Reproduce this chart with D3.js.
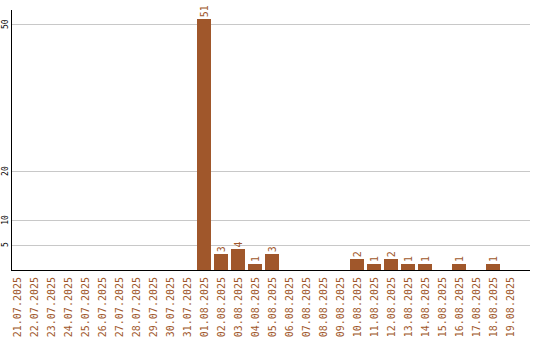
<!DOCTYPE html>
<html><head><meta charset="utf-8">
<script src="https://cdn.jsdelivr.net/npm/d3@7"></script>
<style>body{margin:0;background:#fff}svg{display:block}</style>
</head><body>
<svg id="c" width="540" height="340"></svg>
<script>
const categories = ["21.07.2025","22.07.2025","23.07.2025","24.07.2025","25.07.2025","26.07.2025","27.07.2025","28.07.2025","29.07.2025","30.07.2025","31.07.2025","01.08.2025","02.08.2025","03.08.2025","04.08.2025","05.08.2025","06.08.2025","07.08.2025","08.08.2025","09.08.2025","10.08.2025","11.08.2025","12.08.2025","13.08.2025","14.08.2025","15.08.2025","16.08.2025","17.08.2025","18.08.2025","19.08.2025"];
const values = [0,0,0,0,0,0,0,0,0,0,0,51,3,4,1,3,0,0,0,0,2,1,2,1,1,0,1,0,1,0];
const yTicks = [5,10,20,50];

const svg = d3.select("#c");
const brown = "#a0572b";
const mLeft = 11, mRight = 530, mTop = 10, mBottom = 269;
const x = d3.scaleBand().domain(categories).range([8.5, 518.5]).paddingInner(0.18).paddingOuter(0.09);
const y = d3.scaleLinear().domain([0, 52.9]).range([mBottom, mTop]);

// gridlines
svg.append("g").selectAll("line").data(yTicks).join("line")
  .attr("x1", mLeft).attr("x2", mRight)
  .attr("y1", d => Math.round(y(d)) + 0.5).attr("y2", d => Math.round(y(d)) + 0.5)
  .attr("stroke", "#c8c8c8").attr("stroke-width", 1);

const barData = categories.map((c,i)=>({c, v: values[i]})).filter(d=>d.v>0);

// bars
svg.append("g").selectAll("rect").data(barData).join("rect")
  .attr("x", d => Math.round(x(d.c)))
  .attr("width", Math.round(x.bandwidth()))
  .attr("y", d => Math.round(y(d.v)))
  .attr("height", d => mBottom + 1 - Math.round(y(d.v)))
  .attr("fill", brown);

// value labels
svg.append("g").selectAll("text").data(barData).join("text")
  .attr("transform", d => `translate(${x(d.c) + x.bandwidth()/2 + 4},${y(d.v) - 2}) rotate(-90)`)
  .attr("text-anchor", "start")
  .attr("font-family", "DejaVu Sans Mono")
  .attr("font-size", 10)
  .attr("fill", brown)
  .text(d => d.v);

// axes lines
svg.append("line").attr("x1", mLeft + 0.5).attr("x2", mLeft + 0.5).attr("y1", mTop).attr("y2", mBottom + 1.5)
  .attr("stroke", "#000");
svg.append("line").attr("x1", mLeft).attr("x2", mRight).attr("y1", mBottom + 1.5).attr("y2", mBottom + 1.5)
  .attr("stroke", "#000");

// y tick labels
svg.append("g").selectAll("text").data(yTicks).join("text")
  .attr("transform", d => `translate(8,${y(d)}) rotate(-90)`)
  .attr("text-anchor", "middle")
  .attr("font-family", "DejaVu Sans Mono")
  .attr("font-size", 8)
  .attr("fill", "#000")
  .text(d => d);

// x tick labels
svg.append("g").selectAll("text").data(categories).join("text")
  .attr("transform", d => `translate(${x(d) + x.bandwidth()/2 + 4},277) rotate(-90)`)
  .attr("text-anchor", "end")
  .attr("font-family", "DejaVu Sans Mono")
  .attr("font-size", 10)
  .attr("fill", brown)
  .text(d => d);
</script>
</body></html>
